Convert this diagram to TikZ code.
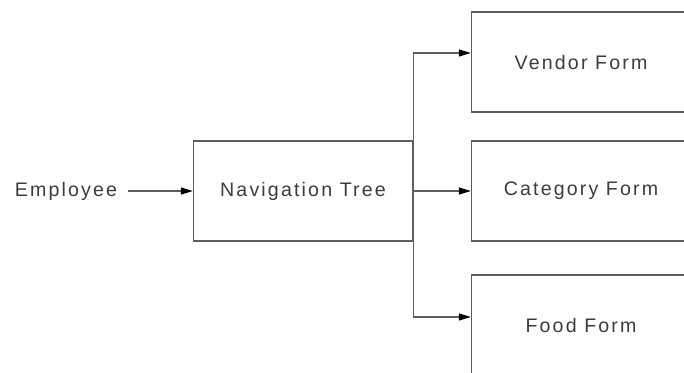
\documentclass[tikz,border=0pt]{standalone}
\usepackage{fontspec}
\setmainfont{Liberation Sans}[LetterSpace=11]
\usepackage{xcolor}
\usetikzlibrary{arrows.meta}
\definecolor{linegray}{HTML}{5E5E5E}
\definecolor{textgray}{HTML}{3C3C3C}

\begin{document}
\begin{tikzpicture}[x=1bp,y=1bp]
\tikzset{>={Triangle[width=7bp,length=12bp,color=black]}}
\tikzstyle{form} =[draw=linegray,line width=1.3bp,minimum width=219bp,minimum height=100bp,inner sep=0pt,text=textgray,font=\fontsize{19.6bp}{24bp}\selectfont]
\tikzstyle{actor} =[inner sep=11bp,text=textgray,font=\fontsize{19.6bp}{24bp}\selectfont]
\tikzstyle{wire} =[draw=linegray,line width=1.3bp]

\useasboundingbox (0,0) rectangle (684,372);
\clip (0,0) rectangle (684,372);

\node[actor](emp) at (66,181){Employee};
\node[form](nav) at (303,181){Navigation Tree};
\node[form](vendor) at (581,310){Vendor Form};
\node[form](category) at (581,181){Category Form};
\node[form](food) at (581,47){Food Form};

\draw [->,wire] (emp) to (nav);
\draw [->,wire] (nav.east) |- ([yshift=9bp]vendor.west);
\draw [->,wire] (nav) to (category);
\draw [->,wire] (nav.east) |- ([yshift=8bp]food.west);
\end{tikzpicture}
\end{document}
